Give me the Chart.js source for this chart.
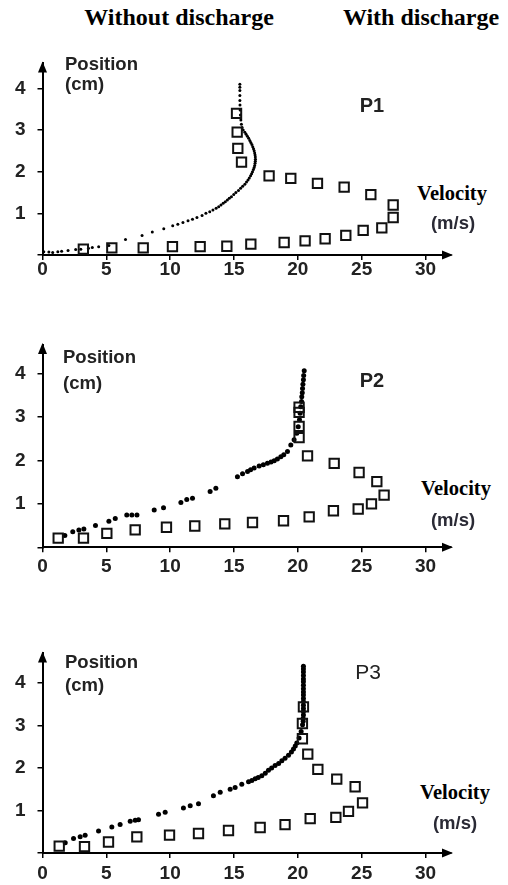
<!DOCTYPE html>
<html><head><meta charset="utf-8">
<script src="https://cdn.jsdelivr.net/npm/chart.js@4/dist/chart.umd.min.js"></script>
<style>
html,body{margin:0;padding:0;background:#fff;}
body{width:508px;height:885px;position:relative;overflow:hidden;}
canvas{position:absolute;left:0;}
.t{position:absolute;transform:translate(-50%,-50%);line-height:1;white-space:nowrap;}
.title{font:bold 24px 'Liberation Serif','Times New Roman',serif;color:#000;}
.vel{font:bold 20.5px 'Liberation Serif','Times New Roman',serif;color:#000;background:#fff;padding:1px 2px;}
.unit{font:bold 18.5px 'Liberation Sans',Arial,sans-serif;color:#2a2a35;}
.pos{position:absolute;transform:translate(0,-50%);line-height:1;white-space:nowrap;font:bold 18.5px 'Liberation Sans',Arial,sans-serif;color:#222;}
.pn{font:bold 20px 'Liberation Sans',Arial,sans-serif;color:#222;}
</style>
</head><body>
<canvas id="c1" width="508" height="250" style="top:40px"></canvas>
<canvas id="c2" width="508" height="270" style="top:320px"></canvas>
<canvas id="c3" width="508" height="255" style="top:630px"></canvas>

<div class="t title" style="left:179px;top:17px">Without discharge</div>
<div class="t title" style="left:421px;top:17px">With discharge</div>

<div class="pos" style="left:65px;top:64px">Position</div>
<div class="pos" style="left:65px;top:84px">(cm)</div>
<div class="t pn" style="left:372px;top:105px">P1</div>
<div class="t vel" style="left:452px;top:193px">Velocity</div>
<div class="t unit" style="left:453px;top:223px">(m/s)</div>

<div class="pos" style="left:63px;top:357px">Position</div>
<div class="pos" style="left:63px;top:383px">(cm)</div>
<div class="t pn" style="left:372px;top:380px">P2</div>
<div class="t vel" style="left:456px;top:488px">Velocity</div>
<div class="t unit" style="left:453px;top:520px">(m/s)</div>

<div class="pos" style="left:65px;top:662px">Position</div>
<div class="pos" style="left:65px;top:685px">(cm)</div>
<div class="t pn" style="left:368px;top:672px;font-weight:normal;font-size:21px">P3</div>
<div class="t vel" style="left:455px;top:792px">Velocity</div>
<div class="t unit" style="left:455px;top:823px">(m/s)</div>

<script>
// ---- tick labels ----
const xTickValues = [0, 5, 10, 15, 20, 25, 30];
const yTickValues = [0, 1, 2, 3, 4];

// ---- P1 : velocity (m/s), position (cm) ----
const p1Without = [
 [0.1,0.08],[0.5,0.07],[0.8,0.06],[1.2,0.08],[1.5,0.09],[2.0,0.11],[2.6,0.13],[3.0,0.14],[3.6,0.16],[3.9,0.18],[4.4,0.2],[5.2,0.23],
 [6.5,0.37],[7.8,0.47],[8.6,0.55],[9.5,0.63],[10.2,0.7],[10.6,0.74],[11.0,0.78],[11.4,0.82],[11.75,0.86],[12.1,0.9],[12.5,0.95],
 [12.8,1.0],[13.1,1.04],[13.35,1.08],[13.6,1.12],[13.8,1.16],[13.98,1.2],[14.15,1.24],[14.32,1.28],[14.48,1.32],[14.63,1.36],
 [14.8,1.4],[14.98,1.45],[15.15,1.5],[15.35,1.55],[15.52,1.6],[15.68,1.65],[15.85,1.7],[15.98,1.75],[16.1,1.8],[16.2,1.85],
 [16.3,1.9],[16.38,1.95],[16.45,2.0],[16.52,2.05],[16.58,2.1],[16.62,2.15],[16.65,2.2],[16.67,2.25],[16.68,2.3],[16.67,2.35],
 [16.65,2.4],[16.62,2.45],[16.58,2.5],[16.53,2.55],[16.47,2.6],[16.4,2.65],[16.32,2.7],[16.24,2.75],[16.15,2.8],[16.05,2.85],
 [15.95,2.9],[15.85,2.95],[15.72,3.0],[15.64,3.06],[15.58,3.14],[15.54,3.24],[15.5,3.36],[15.48,3.48],[15.47,3.6],[15.46,3.71],
 [15.46,3.83],[15.46,3.95],[15.46,4.03],[15.46,4.1]
];
const p1With = [
 [3.2,0.14],[5.43,0.17],[7.89,0.17],[10.18,0.2],[12.35,0.2],[14.44,0.21],[16.32,0.26],[18.93,0.3],[20.57,0.34],[22.14,0.39],
 [23.76,0.47],[25.12,0.59],[26.58,0.65],[27.47,0.9],[27.47,1.2],[25.72,1.45],[23.63,1.63],[21.54,1.72],[19.45,1.84],[17.75,1.9],
 [15.59,2.23],[15.3,2.56],[15.25,2.95],[15.2,3.4]
];

// ---- P2 ----
const p2Without = [
 [1.75,0.27],[2.37,0.36],[2.85,0.4],[3.24,0.42],[4.15,0.5],[5.2,0.6],[5.7,0.66],[6.6,0.74],[7.0,0.74],[7.4,0.74],
 [8.75,0.86],[9.48,0.91],[10.84,1.03],[11.3,1.1],[11.75,1.13],[13.13,1.28],[13.58,1.36],[15.27,1.62],[15.67,1.69],
 [16.06,1.74],[16.3,1.78],[16.58,1.82],[16.97,1.87],[17.3,1.9],[17.62,1.93],[17.9,1.96],[18.15,1.99],[18.4,2.03],
 [18.67,2.08],[18.9,2.13],[19.19,2.2],[19.45,2.35],[19.71,2.47],[19.92,2.62],[20.03,2.77],[20.13,2.93],[20.18,3.08],
 [20.23,3.23],[20.29,3.35],[20.31,3.46],[20.35,3.55],[20.37,3.65],[20.4,3.75],[20.44,3.85],[20.46,3.95],[20.5,4.06]
];
const p2With = [
 [1.23,0.21],[3.21,0.21],[5.04,0.32],[7.26,0.4],[9.71,0.46],[11.93,0.49],[14.28,0.54],[16.45,0.57],[18.88,0.61],
 [20.89,0.7],[22.79,0.84],[24.73,0.88],[25.77,1.0],[26.76,1.2],[26.19,1.51],[24.8,1.72],[22.85,1.93],[20.76,2.1],
 [20.1,2.52],[20.1,2.78],[20.1,3.1],[20.1,3.22]
];

// ---- P3 ----
const p3Without = [
 [1.78,0.24],[2.43,0.34],[2.95,0.38],[3.34,0.42],[4.39,0.52],[5.43,0.61],[6.08,0.67],[6.87,0.75],[7.26,0.77],[7.52,0.78],
 [9.09,0.91],[9.61,0.96],[11.04,1.06],[11.57,1.11],[12.22,1.16],[13.39,1.35],[13.92,1.43],[14.7,1.5],[15.09,1.54],
 [15.61,1.62],[16.14,1.68],[16.4,1.71],[16.66,1.75],[16.9,1.78],[17.18,1.82],[17.45,1.88],[17.7,1.95],[17.95,2.0],
 [18.22,2.06],[18.5,2.11],[18.75,2.17],[19.0,2.23],[19.27,2.3],[19.5,2.38],[19.66,2.45],[19.8,2.52],[19.92,2.59],
 [20.1,2.71],[20.26,2.86],[20.37,3.02],[20.42,3.1],[20.42,3.17],[20.44,3.25],[20.44,3.33],[20.44,3.4],[20.44,3.48],
 [20.44,3.56],[20.44,3.64],[20.44,3.72],[20.44,3.79],[20.44,3.87],[20.44,3.95],[20.44,4.03],[20.44,4.1],[20.44,4.18],
 [20.44,4.26],[20.44,4.33],[20.44,4.4]
];
const p3With = [
 [1.31,0.16],[3.29,0.15],[5.17,0.26],[7.39,0.38],[9.95,0.42],[12.22,0.46],[14.57,0.53],[17.05,0.6],[19.0,0.67],
 [20.97,0.81],[22.98,0.84],[23.97,0.98],[25.07,1.18],[24.49,1.56],[23.05,1.74],[21.57,1.97],[20.78,2.33],
 [20.36,2.69],[20.36,3.05],[20.44,3.44]
];

const arrowPlugin = {
  id: 'axisArrows',
  afterDraw(chart) {
    const {ctx, chartArea: a} = chart;
    ctx.save();
    ctx.fillStyle = '#000';
    ctx.beginPath();
    ctx.moveTo(a.left, a.top - 2);
    ctx.lineTo(a.left - 4.5, a.top + 9);
    ctx.lineTo(a.left + 4.5, a.top + 9);
    ctx.closePath();
    ctx.fill();
    ctx.beginPath();
    ctx.moveTo(a.right + 2, a.bottom);
    ctx.lineTo(a.right - 9, a.bottom - 4.5);
    ctx.lineTo(a.right - 9, a.bottom + 4.5);
    ctx.closePath();
    ctx.fill();
    ctx.restore();
  }
};

const tickFont = {family: "'Liberation Sans', Arial, sans-serif", size: 19, weight: 'bold'};

function toPts(arr) { return arr.map(p => ({x: p[0], y: p[1]})); }

function makeChart(id, without, withD, cfg) {
  return new Chart(document.getElementById(id), {
    type: 'scatter',
    data: {
      datasets: [
        {label: 'With discharge', data: toPts(withD), pointStyle: 'rect', pointRadius: 6.6,
         borderColor: '#111', backgroundColor: 'rgba(255,255,255,0)', borderWidth: 2, pointHoverRadius: 6.6},
        {label: 'Without discharge', data: toPts(without), pointStyle: 'circle', pointRadius: cfg.dot,
         backgroundColor: '#000', borderColor: '#000', borderWidth: 0, pointHoverRadius: cfg.dot}
      ]
    },
    options: {
      responsive: false, animation: false, devicePixelRatio: 1,
      layout: {padding: {top: cfg.top, left: 0, right: 57, bottom: 0}},
      plugins: {legend: {display: false}, tooltip: {enabled: false}},
      scales: {
        x: {
          type: 'linear', min: 0, max: 32,
          afterBuildTicks: s => { s.ticks = xTickValues.map(v => ({value: v})); },
          afterFit: s => { s.height = cfg.xH; },
          ticks: {autoSkip: false, maxRotation: 0, padding: cfg.xPad, color: '#222', font: tickFont},
          grid: {drawOnChartArea: false, drawTicks: true, tickLength: 5, color: '#000', lineWidth: 1.5},
          border: {display: true, color: '#000', width: 2}
        },
        y: {
          type: 'linear', min: 0, max: cfg.yMax,
          afterBuildTicks: s => { s.ticks = yTickValues.map(v => ({value: v})); },
          afterFit: s => { s.width = 42.5; },
          ticks: {padding: 12, color: '#222', font: tickFont,
                  callback: v => (v === 0 ? '' : String(v))},
          grid: {drawOnChartArea: false, drawTicks: true, tickLength: 5, color: '#000', lineWidth: 1.5},
          border: {display: true, color: '#000', width: 2}
        }
      }
    },
    plugins: [arrowPlugin]
  });
}

makeChart('c1', p1Without, p1With, {top: 18.6, xH: 35, xPad: -2, yMax: 4.6, dot: 1.5});
makeChart('c2', p2Without, p2With, {top: 25, xH: 42.7, xPad: 3, yMax: 4.65, dot: 2.5});
makeChart('c3', p3Without, p3With, {top: 21.7, xH: 32, xPad: 4, yMax: 4.7, dot: 2.5});
</script>
</body></html>
